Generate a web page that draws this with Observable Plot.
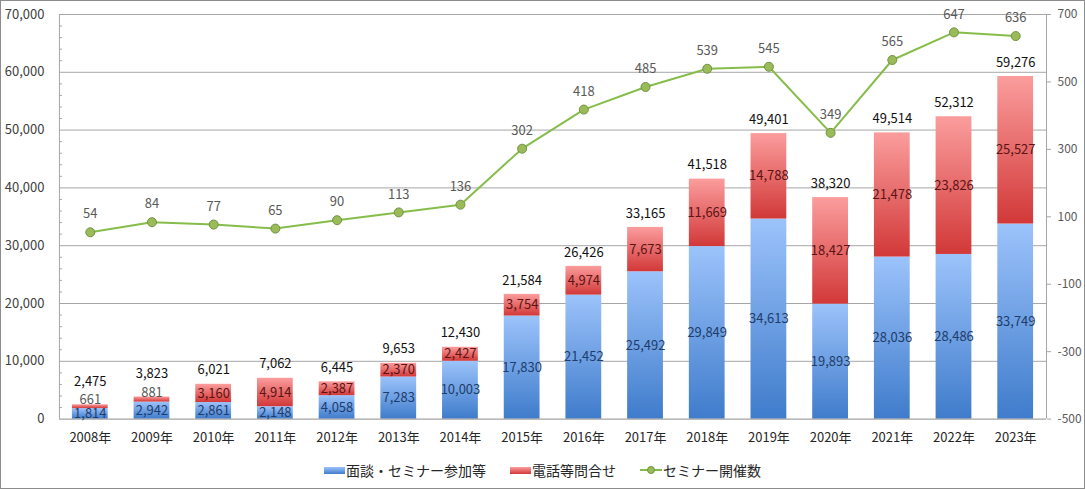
<!DOCTYPE html>
<html>
<head>
<meta charset="utf-8">
<script src="https://cdn.jsdelivr.net/npm/d3@7"></script>
<script src="https://cdn.jsdelivr.net/npm/@observablehq/plot@0.6"></script>
<style>
  html, body { margin: 0; padding: 0; background: #fff; }
  #frame { position: relative; width: 1083px; height: 487px; border: 1px solid #8c8c8c; overflow: hidden; font-family: "Noto Sans CJK JP", "Noto Sans", sans-serif; }
  #chart { position: absolute; left: -1px; top: -1px; }
  #legend { position: absolute; left: 0; right: 0; top: 459px; display: flex; justify-content: center; gap: 24px; font-size: 14px; color: #262626; align-items: center; }
  .item { display: flex; align-items: center; }
  .sw { display: inline-block; width: 21px; height: 7px; margin-right: 1px; }
</style>
</head>
<body>
<div id="frame">
  <div id="chart"></div>
  <div id="legend"></div>
</div>
<script>
const years = ["2008年","2009年","2010年","2011年","2012年","2013年","2014年","2015年","2016年","2017年","2018年","2019年","2020年","2021年","2022年","2023年"];
const consult = [1814, 2942, 2861, 2148, 4058, 7283, 10003, 17830, 21452, 25492, 29849, 34613, 19893, 28036, 28486, 33749];
const phone = [661, 881, 3160, 4914, 2387, 2370, 2427, 3754, 4974, 7673, 11669, 14788, 18427, 21478, 23826, 25527];
const totals = [2475, 3823, 6021, 7062, 6445, 9653, 12430, 21584, 26426, 33165, 41518, 49401, 38320, 49514, 52312, 59276];
const seminars = [54, 84, 77, 65, 90, 113, 136, 302, 418, 485, 539, 545, 349, 565, 647, 636];
const leftTicks = [0, 10000, 20000, 30000, 40000, 50000, 60000, 70000];
const rightTicks = [-500, -300, -100, 100, 300, 500, 700];
const seriesNames = ["面談・セミナー参加等", "電話等問合せ", "セミナー開催数"];

// right axis (-500..700) mapped onto the left domain (0..70000)
const R0 = -500, R1 = 700, L1 = 70000;
const toLeft = v => (v - R0) * L1 / (R1 - R0);
const fromLeft = v => Math.round(v * (R1 - R0) / L1 + R0);

const stacked = [];
years.forEach((y, i) => {
  stacked.push({year: y, y1: 0, y2: consult[i], v: consult[i], s: "blue"});
  stacked.push({year: y, y1: consult[i], y2: consult[i] + phone[i], v: phone[i], s: "red"});
});
const tot = years.map((y, i) => ({year: y, v: totals[i], small: phone[i] < 1000}));
const sem = years.map((y, i) => ({year: y, v: seminars[i], yl: toLeft(seminars[i])}));
const fmt = d3.format(",");

const defs = () => {
  const g = d3.create("svg:defs");
  const b = g.append("linearGradient").attr("id", "gBlue").attr("x1", 0).attr("y1", 0).attr("x2", 0).attr("y2", 1);
  b.append("stop").attr("offset", "0%").attr("stop-color", "#9cc3fb");
  b.append("stop").attr("offset", "100%").attr("stop-color", "#3f7ccb");
  const r = g.append("linearGradient").attr("id", "gRed").attr("x1", 0).attr("y1", 0).attr("x2", 0).attr("y2", 1);
  r.append("stop").attr("offset", "0%").attr("stop-color", "#fb9d9d");
  r.append("stop").attr("offset", "100%").attr("stop-color", "#d23838");
  return g.node();
};

const minorTicks = d3.range(0, 70001, 2000).filter(v => v % 10000 !== 0);
const W = 1085, ML = 59, MR = 38;
const step = (W - ML - MR) / years.length;
const bw = step * 0.58;

const chart = Plot.plot({
  width: W,
  height: 452,
  marginLeft: ML,
  marginRight: MR,
  marginTop: 14,
  marginBottom: 33,
  style: {fontFamily: "'Noto Sans CJK JP', 'Noto Sans', sans-serif", fontSize: "13px", color: "#404040", background: "transparent"},
  x: {domain: years, paddingInner: 0.42, paddingOuter: 0.21, round: false, label: null},
  y: {domain: [0, 70000], label: null},
  marks: [
    defs,
    Plot.gridY(leftTicks.filter(d => d > 0), {stroke: "#a6a6a6", strokeOpacity: 1}),
    Plot.axisY({ticks: leftTicks, tickFormat: fmt, tickSize: 0, tickPadding: 15, fontSize: 13, fill: "#404040", label: null}),
    Plot.tickY(minorTicks, {y: d => d, x: () => years[0], dx: -(step - bw) / 2, insetRight: bw - 3, stroke: "#a6a6a6", strokeWidth: 1}),
    Plot.axisY({anchor: "right", ticks: rightTicks.map(toLeft), tickFormat: fromLeft, tickSize: 4, tickPadding: 7, fontSize: 12, fill: "#595959", stroke: "#a6a6a6", label: null}),
    Plot.ruleX([0], {x: () => years[0], dx: -step / 2, y1: 0, y2: 70000, stroke: "#a6a6a6"}),
    Plot.ruleX([0], {x: () => years[years.length - 1], dx: step / 2, y1: 0, y2: 70000, stroke: "#a6a6a6"}),
    Plot.axisX({tickSize: 0, tickPadding: 14, fontSize: 13, fill: "#262626", label: null}),
    Plot.barY(stacked, {x: "year", y1: "y1", y2: "y2", fill: d => d.s === "blue" ? "url(#gBlue)" : "url(#gRed)"}),
    Plot.ruleY([0], {stroke: "#8c8c8c"}),
    Plot.text(stacked.filter(d => d.s === "blue"), {x: "year", y: d => (d.y1 + d.y2) / 2, text: d => fmt(d.v), fill: "#1f3c6b", fontSize: 13}),
    Plot.text(stacked.filter(d => d.s === "red" && d.v >= 1000), {x: "year", y: d => (d.y1 + d.y2) / 2, text: d => fmt(d.v), fill: "#5a1414", fontSize: 13}),
    Plot.text(stacked.filter(d => d.s === "red" && d.v < 1000), {x: "year", y: d => (d.y1 + d.y2) / 2, dy: -7, text: d => fmt(d.v), fill: "#595959", fontSize: 13}),
    Plot.text(tot.filter(d => !d.small), {x: "year", y: "v", dy: -14, text: d => fmt(d.v), fill: "#111", fontSize: 13}),
    Plot.text(tot.filter(d => d.small), {x: "year", y: "v", dy: -23, text: d => fmt(d.v), fill: "#111", fontSize: 13}),
    Plot.line(sem, {x: "year", y: "yl", stroke: "#86bd4a", strokeWidth: 2}),
    Plot.dot(sem, {x: "year", y: "yl", r: 4.5, fill: "#9bbb59", stroke: "#6f9142", strokeWidth: 1}),
    Plot.text(sem, {x: "year", y: "yl", dy: -18, text: d => String(d.v), fill: "#595959", fontSize: 13})
  ]
});
document.getElementById("chart").appendChild(chart);

const legend = document.getElementById("legend");
legend.innerHTML = `
  <span class="item"><span class="sw" style="background:linear-gradient(#9cc3fb,#3f7ccb)"></span>${seriesNames[0]}</span>
  <span class="item"><span class="sw" style="background:linear-gradient(#fb9d9d,#d23838)"></span>${seriesNames[1]}</span>
  <span class="item"><svg width="22" height="12" style="margin-right:1px"><line x1="0" y1="6" x2="22" y2="6" stroke="#86bd4a" stroke-width="2"/><circle cx="11" cy="6" r="3.5" fill="#9bbb59" stroke="#6f9142"/></svg>${seriesNames[2]}</span>`;
</script>
</body>
</html>
